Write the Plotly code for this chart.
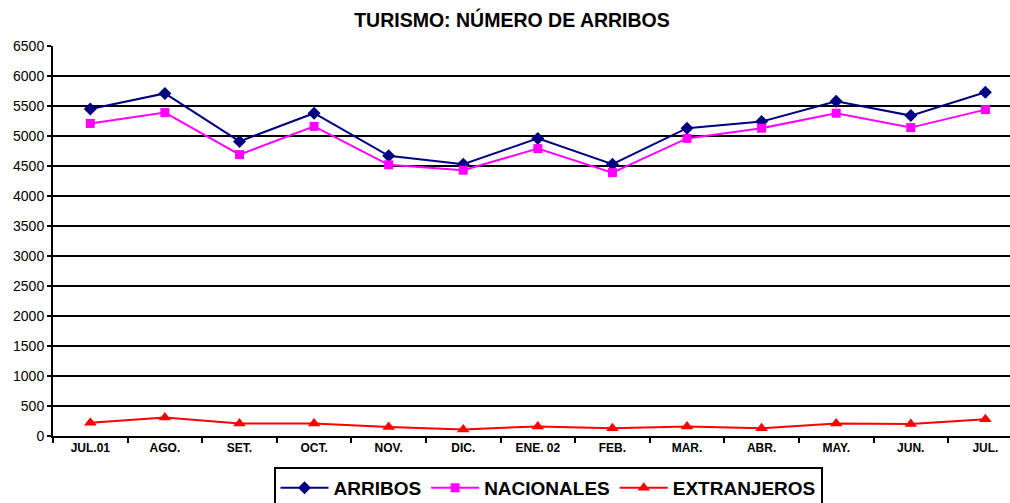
import plotly.graph_objects as go

categories = ["JUL.01", "AGO.", "SET.", "OCT.", "NOV.", "DIC.", "ENE. 02",
              "FEB.", "MAR.", "ABR.", "MAY.", "JUN.", "JUL."]
arribos = [5450, 5710, 4910, 5380, 4670, 4530, 4960, 4530, 5130, 5240, 5580, 5340, 5730]
nacionales = [5210, 5390, 4690, 5160, 4520, 4430, 4790, 4390, 4960, 5130, 5380, 5140, 5440]
extranjeros = [220, 310, 210, 210, 150, 110, 160, 130, 160, 130, 210, 200, 280]
y_ticks = list(range(0, 6501, 500))

FONT = "Liberation Sans, Arial, sans-serif"

fig = go.Figure()
fig.add_trace(go.Scatter(x=categories, y=arribos, name="<b>ARRIBOS</b>", mode="lines+markers",
                         line=dict(color="#000080", width=2),
                         marker=dict(symbol="diamond", size=10, color="#000080")))
fig.add_trace(go.Scatter(x=categories, y=nacionales, name="<b>NACIONALES</b>", mode="lines+markers",
                         line=dict(color="#FF00FF", width=2),
                         marker=dict(symbol="square", size=9, color="#FF00FF")))
fig.add_trace(go.Scatter(x=categories, y=extranjeros, name="<b>EXTRANJEROS</b>", mode="lines+markers",
                         line=dict(color="#FF0000", width=2),
                         marker=dict(symbol="triangle-up", size=11, color="#FF0000")))

fig.update_layout(
    width=1010, height=503,
    margin=dict(l=53, r=0, t=46, b=67, autoexpand=False),
    paper_bgcolor="white", plot_bgcolor="white",
    font=dict(family=FONT, color="black"),
    title=dict(text="<b>TURISMO: NÚMERO DE ARRIBOS</b>",
               x=512 / 1010, xref="container", xanchor="center",
               y=1 - 20 / 503, yref="container", yanchor="middle",
               font=dict(size=19.5, color="black")),
    showlegend=True,
    legend=dict(orientation="h", x=548 / 1010, xanchor="center", xref="container",
                y=1 - 467 / 503, yanchor="top", yref="container",
                bordercolor="black", borderwidth=2, bgcolor="white",
                font=dict(size=19, color="black", family=FONT),
                itemwidth=48, tracegroupgap=0),
    xaxis=dict(type="category", range=[-0.5, 12.33], showgrid=False, automargin=False,
               showline=True, linecolor="black", linewidth=2,
               ticks="outside", tickson="boundaries", ticklen=5, tickcolor="black",
               tickwidth=1.5, tickfont=dict(size=12, color="black"),
               tickprefix="<b>", ticksuffix="</b>"),
    yaxis=dict(range=[0, 6500], tickmode="array", tickvals=y_ticks, automargin=False,
               showgrid=True, gridcolor="black", gridwidth=2,
               showline=True, linecolor="black", linewidth=2, zeroline=False,
               ticks="outside", ticklen=4, tickcolor="black", tickwidth=1.5,
               tickfont=dict(size=14, color="black")),
)

fig.write_html("out.html", config={"displayModeBar": False},
               post_script="document.body.style.margin='0';")
